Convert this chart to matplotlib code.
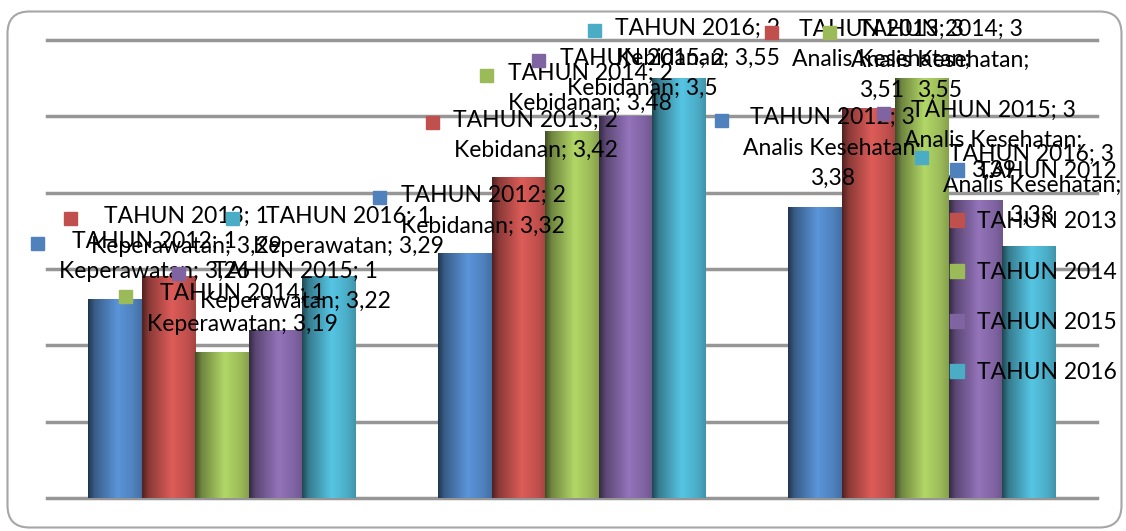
"""Nilai rata-rata per program studi, TAHUN 2012-2016 (Excel style 3D-ish bars)."""
import matplotlib
matplotlib.use("Agg")
import matplotlib.pyplot as plt
import numpy as np
from matplotlib.colors import to_rgb
from matplotlib.lines import Line2D
from matplotlib.patches import FancyBboxPatch, Rectangle
from matplotlib.transforms import IdentityTransform

plt.rcParams["font.family"] = ["Lato", "DejaVu Sans"]

years = ["TAHUN 2012", "TAHUN 2013", "TAHUN 2014", "TAHUN 2015", "TAHUN 2016"]
programs = ["Keperawatan", "Kebidanan", "Analis Kesehatan"]
program_no = [1, 2, 3]
score_2012 = [3.26, 3.32, 3.38]
score_2013 = [3.29, 3.42, 3.51]
score_2014 = [3.19, 3.48, 3.55]
score_2015 = [3.22, 3.50, 3.39]
score_2016 = [3.29, 3.55, 3.33]
scores = [score_2012, score_2013, score_2014, score_2015, score_2016]
colors = ["#4F81BD", "#C0504D", "#9BBB59", "#8064A2", "#4BACC6"]

# where the data labels were left, pixels from the bar top (right, up)
label_shift = [
    [(39, 43), (18, 43), (17, 60)],
    [(18, 45), (17, 42), (13, 49)],
    [(20, 44), (18, 43), (18, 18)],
    [(20, 44), (17, 43), (18, 60)],
    [(20, 45), (19, 35), (3, 61)],
]

FS = 16.5
W = 0.1526
Y0, Y1 = 3.0, 3.6


def shade(c, n=64):
    # dark left edge, bright highlight, softer right side
    base = np.array(to_rgb(c))
    k = np.interp(np.linspace(0, 1, n), [0, 0.12, 0.55, 0.85, 1], [0.42, 0.72, 1.15, 1.0, 0.86])
    return np.clip(base[None, None, :] * k[None, :, None], 0, 1)


def fmt(v):
    return ("%g" % v).replace(".", ",")


fig = plt.figure(figsize=(11.26, 5.31), dpi=100)
ax = fig.add_axes([47 / 1126, 33 / 531, 1050 / 1126, 458 / 531])
ax.set_xlim(-0.5, 2.5)
ax.set_ylim(Y0, Y1)

x = np.arange(len(programs))
texts = []
for i, (name, vals, col) in enumerate(zip(years, scores, colors)):
    bars = ax.bar(x + (i - 2) * W, vals, W, color=col, zorder=2)
    img = shade(col)
    for j, b in enumerate(bars):
        x0, v = b.get_x(), b.get_height()
        ax.imshow(img, extent=(x0, x0 + W, Y0, v), aspect="auto", zorder=2.5,
                  interpolation="bilinear")
        if len(programs[j]) > 12:  # long name wraps onto its own line
            txt = f"{name}; {program_no[j]}\n{programs[j]};\n{fmt(vals[j])}"
        else:
            txt = f"{name}; {program_no[j]}\n{programs[j]}; {fmt(vals[j])}"
        dx, dy = label_shift[i][j]
        t = ax.annotate(txt, (x0 + W / 2, v), xytext=(dx, dy), textcoords="offset pixels",
                        ha="center", va="center", fontsize=FS, linespacing=1.55,
                        multialignment="center", zorder=5, annotation_clip=False)
        texts.append((t, col))

ax.set_xlim(-0.5, 2.5)
ax.set_ylim(Y0, Y1)
ax.set_yticks(np.linspace(Y0, Y1, 7))
ax.set_xticks([])
ax.grid(axis="y", color="#969696", lw=2.5)
ax.set_axisbelow(True)
for gl in ax.get_ygridlines():
    gl.set_clip_on(False)
ax.tick_params(length=0, labelleft=False)
for s in ax.spines.values():
    s.set_visible(False)

handles = [Line2D([], [], marker="s", ls="none", color=c, markersize=9.5, label=n)
           for n, c in zip(years, colors)]
fig.legend(handles=handles, loc="upper left", bbox_to_anchor=(948 / 1126, 1 - 161 / 531),
           frameon=False, fontsize=FS, handlelength=0.8, handletextpad=0.45,
           labelspacing=1.28, borderpad=0, borderaxespad=0)

fig.add_artist(FancyBboxPatch((7.5, 3.5), 1114, 516, boxstyle="round,pad=0,rounding_size=22",
                              transform=IdentityTransform(), fill=False, ec="#a6a6a6", lw=1.5))

# legend keys in front of each data label
fig.canvas.draw()
rend = fig.canvas.get_renderer()
for t, col in texts:
    bb = t.get_window_extent(rend)
    nl = t.get_text().count("\n") + 1
    cy = bb.y1 - bb.height / nl / 2
    fig.add_artist(Rectangle((bb.x0 - 21 - 6.5, cy - 6.5), 13, 13, color=col,
                             transform=IdentityTransform(), zorder=6))

fig.savefig("out.png", dpi=100)
